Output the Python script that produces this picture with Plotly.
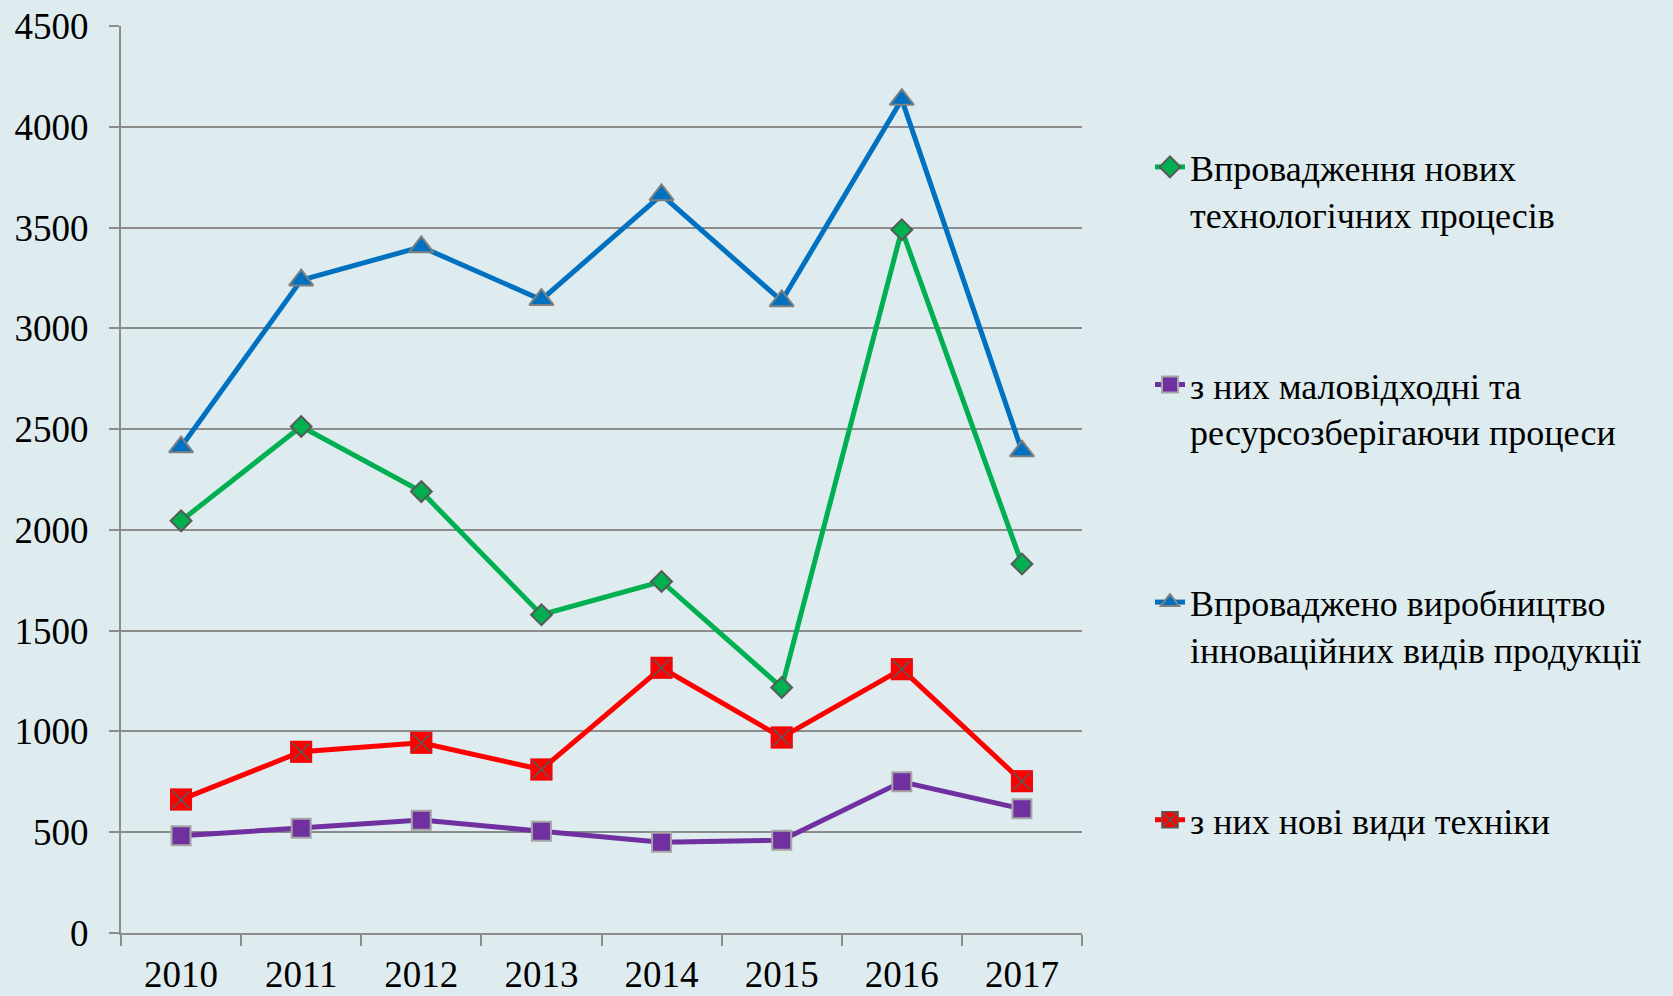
import plotly.graph_objects as go

years = ["2010", "2011", "2012", "2013", "2014", "2015", "2016", "2017"]
name_green = "Впровадження нових<br>технологічних процесів"
name_purple = "з них маловідходні та<br>ресурсозберігаючи процеси"
name_blue = "Впроваджено виробництво<br>інноваційних видів продукції"
name_red = "з них нові види техніки"

green_vals = [2045, 2513, 2190, 1579, 1744, 1218, 3489, 1831]
purple_vals = [482, 520, 560, 505, 450, 460, 750, 616]
blue_vals = [2411, 3239, 3404, 3142, 3662, 3136, 4135, 2391]
red_vals = [662, 899, 944, 811, 1316, 970, 1309, 753]

y_ticks = [0, 500, 1000, 1500, 2000, 2500, 3000, 3500, 4000, 4500]

FONT = "Liberation Serif"
BG = "#DEEBEF"
GRID = "#8C8C8C"
LW = 5

fig = go.Figure()

fig.add_trace(go.Scatter(
    x=years, y=green_vals, name=name_green, legendgroup="g1", mode="lines+markers",
    line=dict(color="#00B050", width=LW),
    marker=dict(symbol="diamond", size=16, color="#00B050", line=dict(color="#595959", width=2)),
))
fig.add_trace(go.Scatter(
    x=years, y=purple_vals, name=name_purple, legendgroup="g2", mode="lines+markers",
    line=dict(color="#7030A0", width=LW),
    marker=dict(symbol="square", size=19, color="#7030A0", line=dict(color="#A6A6A6", width=2)),
))
fig.add_trace(go.Scatter(
    x=years, y=blue_vals, name=name_blue, legendgroup="g3", mode="lines+markers",
    line=dict(color="#0070C0", width=LW),
    marker=dict(symbol="triangle-up", size=21, color="#0070C0", line=dict(color="#7F7F7F", width=2)),
))
fig.add_trace(go.Scatter(
    x=years, y=red_vals, name=name_red, legendgroup="g4", mode="lines+markers",
    line=dict(color="#FF0000", width=LW),
    marker=dict(symbol="square-x", size=20, color="#FF0000", line=dict(color="#595959", width=1.6)),
))
# red outline drawn over the square border on the chart (the X stays grey)
fig.add_trace(go.Scatter(
    x=years, y=red_vals, legendgroup="g4", showlegend=False, mode="markers", hoverinfo="skip",
    marker=dict(symbol="square-open", size=20, color="#FF0000", line=dict(color="#FF0000", width=2)),
))

fig.update_layout(
    width=1673, height=996,
    paper_bgcolor=BG, plot_bgcolor=BG,
    margin=dict(l=121, r=591, t=26, b=63),
    font=dict(family=FONT, size=36, color="#000000"),
    showlegend=True,
    legend=dict(
        xref="container", yref="container",
        x=1150 / 1673, y=1 - 137 / 996, xanchor="left", yanchor="top",
        font=dict(family=FONT, size=36, color="#000000"),
        valign="top", tracegroupgap=121, bgcolor="rgba(0,0,0,0)",
        traceorder="grouped", maxheight=960,
    ),
    xaxis=dict(
        type="category", range=[-0.5, 7.5], automargin=False,
        showgrid=False, showline=True, linecolor=GRID, linewidth=2,
        ticks="outside", tickson="boundaries", ticklen=11, tickwidth=1.5, tickcolor=GRID,
        tickfont=dict(family=FONT, size=37), ticklabelstandoff=8,
    ),
    yaxis=dict(
        range=[0, 4500], tickvals=y_ticks, ticktext=[str(v) for v in y_ticks], automargin=False,
        showgrid=True, gridcolor=GRID, gridwidth=2,
        showline=True, linecolor=GRID, linewidth=2,
        ticks="outside", ticklen=10, tickwidth=2, tickcolor=GRID,
        tickfont=dict(family=FONT, size=37), ticklabelstandoff=13,
        zeroline=False,
    ),
)

fig.write_html("out.html", config={"displayModeBar": False},
               post_script="document.body.style.margin='0';document.body.style.overflow='hidden';")
